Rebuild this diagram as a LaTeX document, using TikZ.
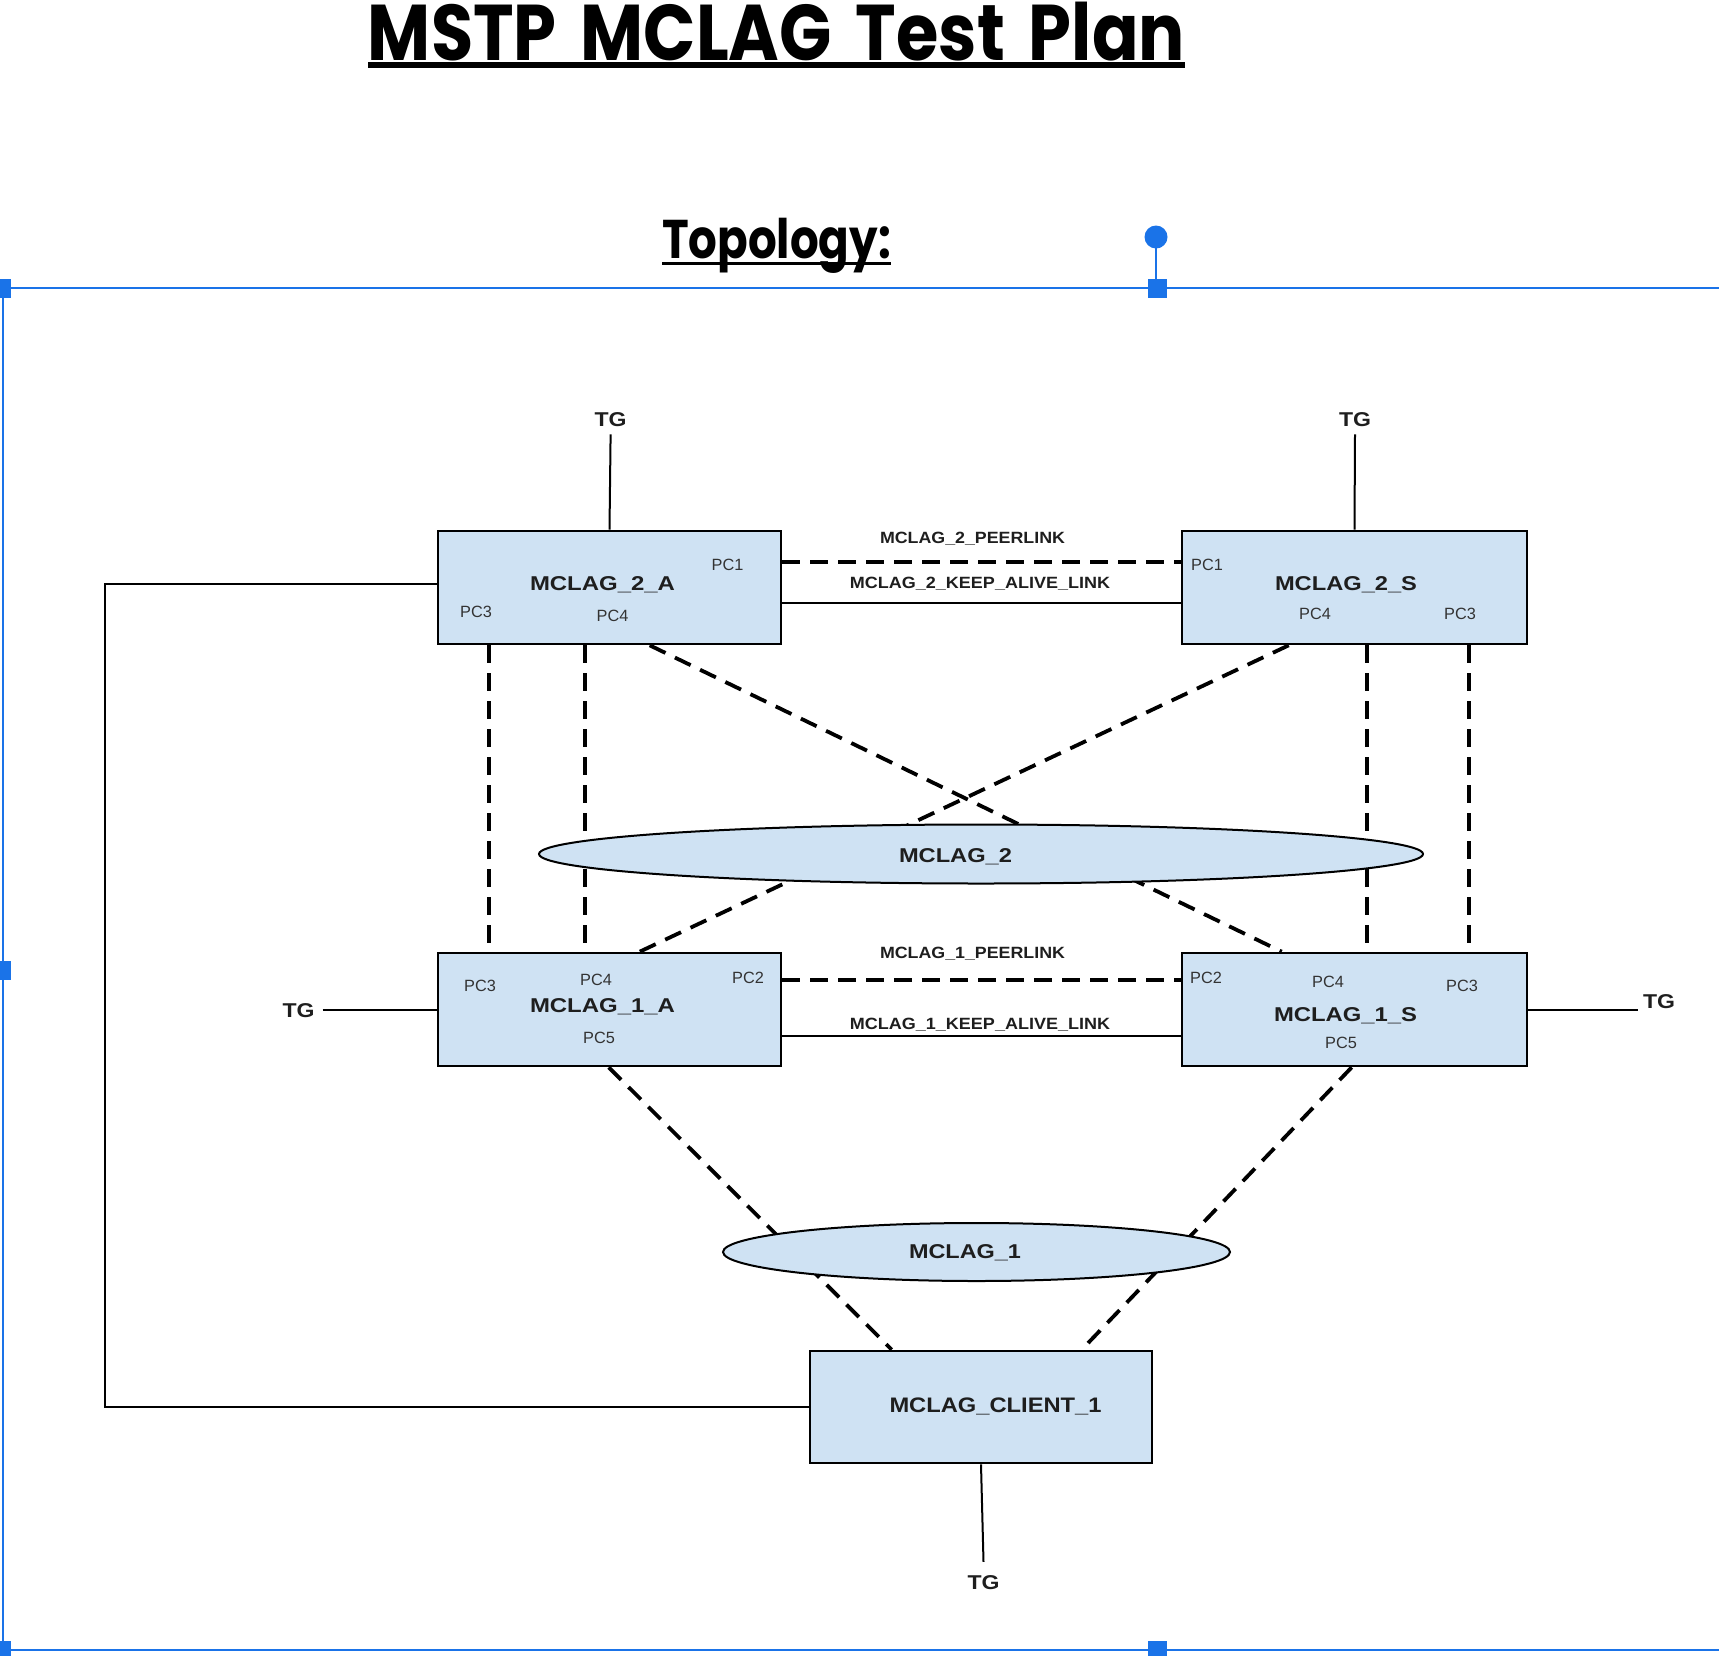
\documentclass[tikz,border=0pt]{standalone}
\usepackage{fontspec}
\usepackage{graphicx}
\setmainfont{Liberation Sans}
\newfontfamily\titlefont{Poppins}
\usetikzlibrary{calc,shapes.geometric}
\definecolor{boxfill}{HTML}{CFE2F3}
\definecolor{uiblue}{HTML}{1A73E8}
\definecolor{pcgray}{HTML}{333333}
\definecolor{labblack}{HTML}{1E1E1E}
\newcommand\fitlab[3]{\resizebox{#1pt}{\height}{\fontsize{#2}{#2}\selectfont #3}}
\tikzset{
  devbox/.style={draw=black, fill=boxfill, line width=2.6, rectangle, inner sep=0},
  cloud/.style={draw=black, fill=boxfill, line width=2, ellipse, inner sep=0},
  blab/.style={anchor=base, inner sep=0, text=labblack, font=\bfseries},
  pclab/.style={anchor=base, inner sep=0, text=pcgray, font=\fontsize{16.3}{16.3}\selectfont},
  dlink/.style={line width=3.8, dash pattern=on 17.5 off 10.5},
  slink/.style={line width=2},
  uiline/.style={draw=uiblue, line width=2},
  handle/.style={fill=uiblue}
}
\begin{document}
\begin{tikzpicture}[x=1pt,y=-1pt]
\useasboundingbox (0,0) rectangle (1719,1655);

% Title
\node[anchor=base, inner sep=0] (title) at (776.5,60) {\resizebox{817pt}{\height}{\titlefont\bfseries\fontsize{79}{79}\selectfont MSTP\hspace{0.35em}MCLAG\hspace{0.35em}Test\hspace{0.35em}Plan}};
\fill (368,62.3) rectangle (1185,67.7);
\node[anchor=base, inner sep=0] (topo) at (776.5,258) {\resizebox{229pt}{\height}{\titlefont\bfseries\fontsize{54.5}{54.5}\selectfont Topology:}};
\fill (662,261.7) rectangle (891,265);

% UI frame
\draw[uiline] (0,288) -- (1719,288);
\draw[uiline] (3,288) -- (3,1650);
\draw[uiline] (0,1650) -- (1719,1650);
\draw[uiline] (1156,237) -- (1156,288);
\fill[handle] (1156,237) circle (11.5);
\fill[handle] (-8,278.5) rectangle (11,297.5);
\fill[handle] (1147.5,278.5) rectangle (1166.5,297.5);
\fill[handle] (-8,960.5) rectangle (11,979.5);
\fill[handle] (-8,1640.5) rectangle (11,1659.5);
\fill[handle] (1147.5,1640.5) rectangle (1166.5,1659.5);

% Device boxes (coordinates only, drawn later)
\path (609.5,587.5) node[devbox, minimum width=343, minimum height=113, draw=none, fill=none] (m2a) {};
\path (1354.5,587.5) node[devbox, minimum width=345, minimum height=113, draw=none, fill=none] (m2s) {};
\path (609.5,1009.5) node[devbox, minimum width=343, minimum height=113, draw=none, fill=none] (m1a) {};
\path (1354.5,1009.5) node[devbox, minimum width=345, minimum height=113, draw=none, fill=none] (m1s) {};
\path (981,1407) node[devbox, minimum width=342, minimum height=112, draw=none, fill=none] (c1) {};

% Dashed links between tiers
\draw[dlink] ($(m2a.south west)+(52,0)$) -- ($(m1a.north west)+(52,0)$);
\draw[dlink] ($(m2a.south west)+(148,0)$) -- ($(m1a.north west)+(148,0)$);
\draw[dlink] ($(m2s.south west)+(186,0)$) -- ($(m1s.north west)+(186,0)$);
\draw[dlink] ($(m2s.south west)+(288,0)$) -- ($(m1s.north west)+(288,0)$);
\draw[dlink] ($(m2a.south west)+(213,0)$) -- ($(m1s.north west)+(101,0)$);
\draw[dlink] ($(m2s.south west)+(108,0)$) -- ($(m1a.north west)+(203,0)$);
\draw[dlink] ($(m1a.south west)+(172,0)$) -- ($(c1.north west)+(83,0)$);
\draw[dlink] ($(m1s.south west)+(171,0)$) -- ($(c1.north west)+(273,0)$);

% Ellipses
\node[cloud, minimum width=884, minimum height=59] (mc2) at (981,854) {};
\node[cloud, minimum width=507, minimum height=58] (mc1) at (976.5,1252) {};
\node[blab] (mc2lab) at (955.5,862) {\fitlab{113}{20}{MCLAG\_2}};
\node[blab] (mc1lab) at (965,1258) {\fitlab{112}{20}{MCLAG\_1}};

% Peer links and keep-alive links
\draw[dlink] ($(m2a.north east)+(0,32)$) -- ($(m2s.north west)+(0,32)$);
\draw[slink] ($(m2a.north east)+(0,73)$) -- ($(m2s.north west)+(0,73)$);
\draw[dlink] ($(m1a.north east)+(0,28)$) -- ($(m1s.north west)+(0,28)$);
\draw[slink] ($(m1a.north east)+(0,84)$) -- ($(m1s.north west)+(0,84)$);
\node[blab] (pl2) at (972.5,543) {\fitlab{185}{16.3}{MCLAG\_2\_PEERLINK}};
\node[blab] (ka2) at (980,588) {\fitlab{260}{16.3}{MCLAG\_2\_KEEP\_ALIVE\_LINK}};
\node[blab] (pl1) at (972.5,958) {\fitlab{185}{16.3}{MCLAG\_1\_PEERLINK}};
\node[blab] (ka1) at (980,1029) {\fitlab{260}{16.3}{MCLAG\_1\_KEEP\_ALIVE\_LINK}};

% TG labels and links
\node[blab] (tg1) at (610.6,426) {\fitlab{32}{20}{TG}};
\node[blab] (tg2) at (1355,426) {\fitlab{32}{20}{TG}};
\node[blab] (tg3) at (298.5,1017) {\fitlab{32}{20}{TG}};
\node[blab] (tg4) at (1659,1008) {\fitlab{32}{20}{TG}};
\node[blab] (tg5) at (983.5,1589) {\fitlab{32}{20}{TG}};
\draw[slink] ([yshift=-8pt]tg1.south) -- (m2a.north);
\draw[slink] ([yshift=-8pt]tg2.south) -- (m2s.north);
\draw[slink] ([xshift=8pt]tg3.east |- m1a.west) -- (m1a.west);
\draw[slink] (m1s.east) -- ([xshift=-5pt]m1s.east -| tg4.west);
\draw[slink] (c1.south) -- ([yshift=13pt]tg5.north);

% Loop from MCLAG_2_A to client
\draw[slink] ($(m2a.west)+(0,-3.5)$) -- ++(-332,0) |- (c1.west);

% Boxes drawn on top
\node[devbox, minimum width=343, minimum height=113] (m2abox) at (m2a) {};
\node[devbox, minimum width=345, minimum height=113] (m2sbox) at (m2s) {};
\node[devbox, minimum width=343, minimum height=113] (m1abox) at (m1a) {};
\node[devbox, minimum width=345, minimum height=113] (m1sbox) at (m1s) {};
\node[devbox, minimum width=342, minimum height=112] (c1box) at (c1) {};

% Box labels
\node[blab] (m2alab) at (602.5,590) {\fitlab{145}{20}{MCLAG\_2\_A}};
\node[blab] (m2slab) at (1346,590) {\fitlab{142}{20}{MCLAG\_2\_S}};
\node[blab] (m1alab) at (602.5,1012) {\fitlab{145}{20}{MCLAG\_1\_A}};
\node[blab] (m1slab) at (1345.5,1021) {\fitlab{143}{20}{MCLAG\_1\_S}};
\node[blab] (c1lab) at (995.5,1412) {\fitlab{212}{21}{MCLAG\_CLIENT\_1}};

% Port labels
\node[pclab] (p2a1) at (727.5,570) {PC1};
\node[pclab] (p2a3) at (476,617) {PC3};
\node[pclab] (p2a4) at (612.5,621) {PC4};
\node[pclab] (p2s1) at (1207,570) {PC1};
\node[pclab] (p2s4) at (1315,619) {PC4};
\node[pclab] (p2s3) at (1460,619) {PC3};
\node[pclab] (p1a3) at (480,991) {PC3};
\node[pclab] (p1a4) at (596,985) {PC4};
\node[pclab] (p1a2) at (748,983) {PC2};
\node[pclab] (p1a5) at (599,1043) {PC5};
\node[pclab] (p1s2) at (1206,983) {PC2};
\node[pclab] (p1s4) at (1328,987) {PC4};
\node[pclab] (p1s3) at (1462,991) {PC3};
\node[pclab] (p1s5) at (1341,1048) {PC5};
\end{tikzpicture}
\end{document}
